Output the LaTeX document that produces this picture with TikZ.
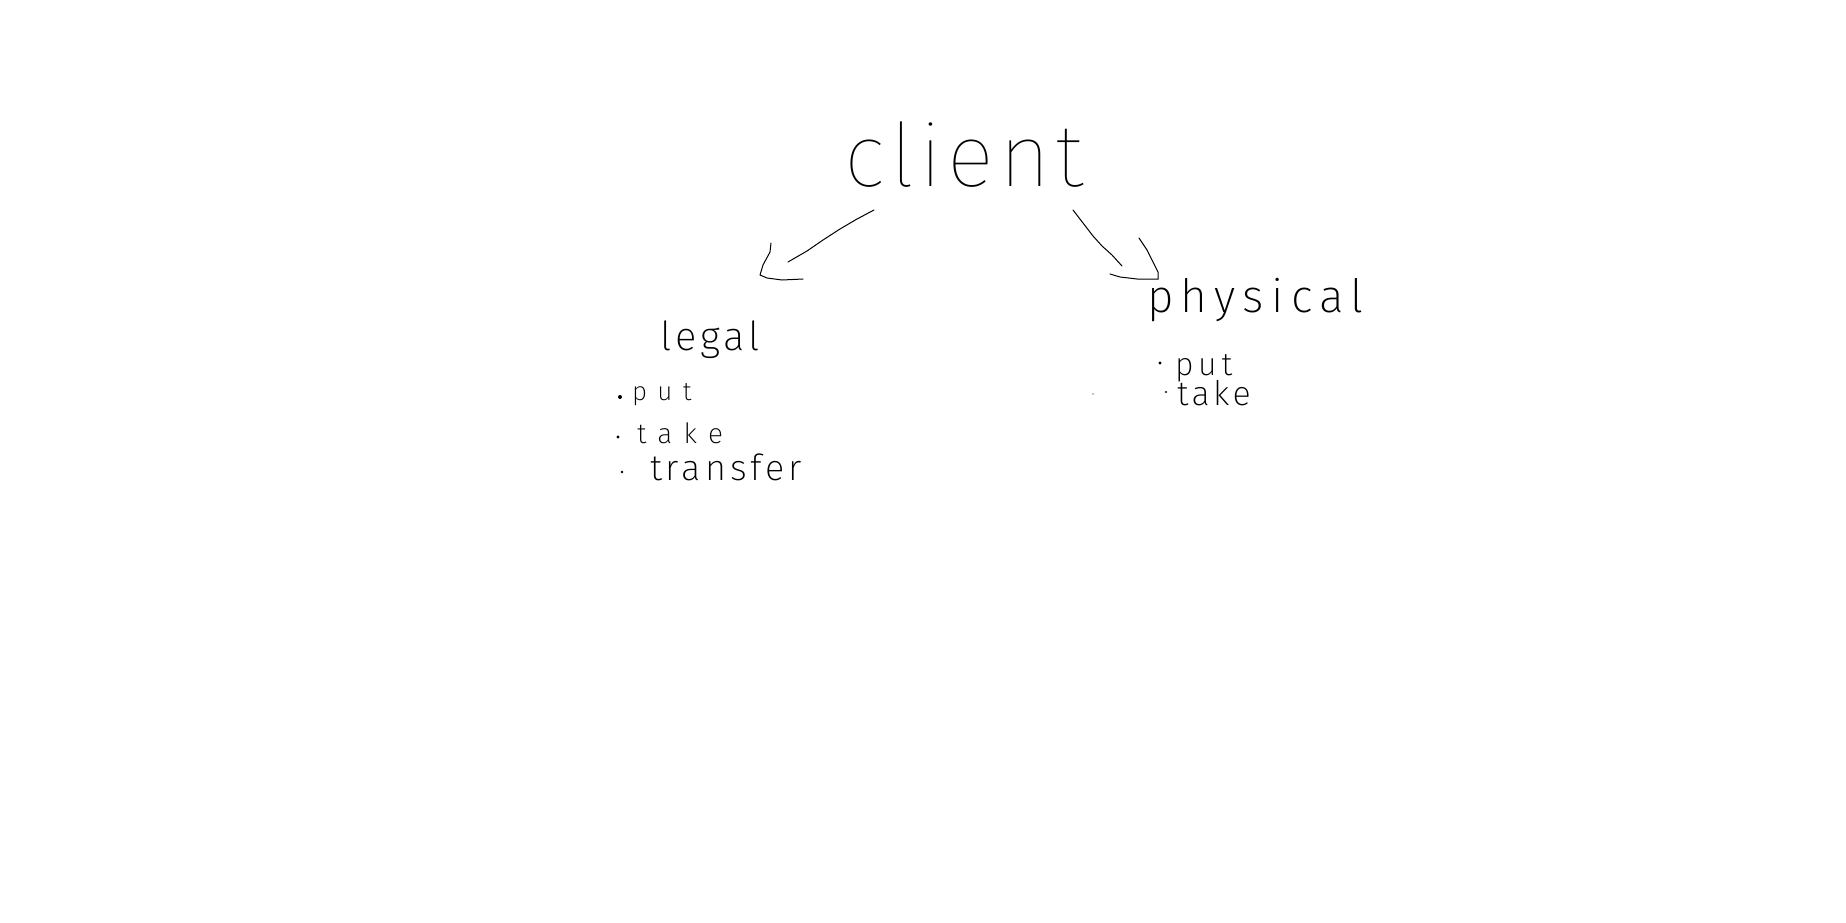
\documentclass[tikz,border=0pt]{standalone}
\usepackage{fontspec}
\newfontfamily\hand{Fira Sans Thin}
\newfontfamily\handl{Fira Sans ExtraLight}
\tikzset{
  word/.style={inner sep=0pt, outer sep=0pt, anchor=base west, text=black},
  stroke/.style={line width=1pt, black, line cap=round, line join=round},
  bulletdot/.style={fill=black, draw=none}
}
\newcommand{\hw}[3]{{\hand\fontsize{#1}{#1}\selectfont\addfontfeatures{LetterSpace=#2}#3}}
\newcommand{\hs}[3]{{\handl\fontsize{#1}{#1}\selectfont\addfontfeatures{LetterSpace=#2}#3}}
\begin{document}
\begin{tikzpicture}[x=1pt,y=-1pt]
\useasboundingbox[fill=white] (0,0) rectangle (1846,923);
% words
\node[word] (client) at (844,186) {\hw{88}{6}{client}};
\node[word] (legal) at (660,350) {\hs{40}{10}{legal}};
\node[word] (lput) at (632,400) {\hs{26}{40}{put}};
\node[word] (ltake) at (637,443) {\hs{28}{40}{take}};
\node[word] (ltransfer) at (650,480) {\hs{36}{11}{transfer}};
\node[word] (physical) at (1147,312) {\hs{46}{16}{physical}};
\node[word] (pput) at (1175,375) {\hs{32}{15}{put}};
\node[word] (ptake) at (1177,405) {\hs{34}{10}{take}};
% bullets
\fill[bulletdot] (620,397) circle (2pt);
\fill[bulletdot] (618,437) circle (1.6pt);
\fill[bulletdot] (622,472) circle (1.3pt);
\fill[bulletdot] (1160,363) circle (1.6pt);
\fill[bulletdot] (1166,392) circle (1.1pt);
\fill[bulletdot] (1093,394) circle (0.7pt);
% left arrow
\coordinate (ls) at (874,210);
\coordinate (le) at (788,262);
\coordinate (ltip) at (760,275);
\draw[stroke] (ls) -- (857,219) -- (840,229) -- (823,240) -- (807,251) -- (le);
\draw[stroke] (771,243) -- (770,252) -- (763,265) -- (ltip) -- (767,278) -- (782,280) -- (803,279);
% right arrow
\coordinate (rs) at (1073,210);
\coordinate (re) at (1122,266);
\coordinate (rtip) at (1158,279);
\draw[stroke] (rs) -- (1083,223) -- (1093,236) -- (1102,246) -- (1112,255) -- (re);
\draw[stroke] (1139,238) -- (1147,250) -- (1153,262) -- (1158,272) -- (rtip);
\draw[stroke] (1110,274) -- (1120,277) -- (1137,279) -- (rtip);
\end{tikzpicture}
\end{document}
